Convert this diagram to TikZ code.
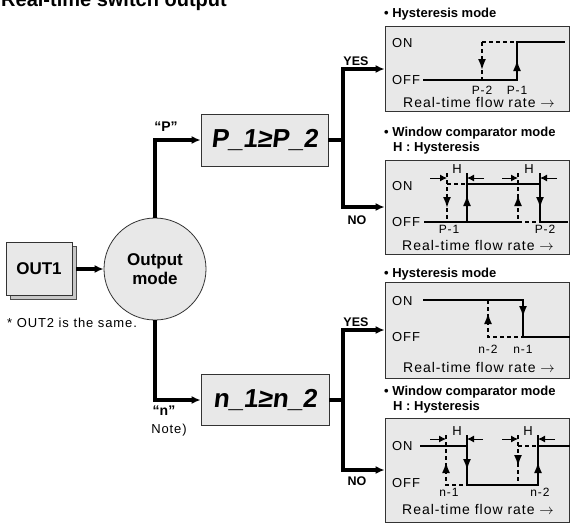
\documentclass[tikz,border=0pt]{standalone}
\usepackage{fontspec}
\setmainfont{Liberation Sans}
\newfontfamily\widefont[LetterSpace=7]{Liberation Sans}
\newfontfamily\segfont[FakeSlant=0.12]{Liberation Sans Bold}
\usetikzlibrary{arrows.meta,shadows}

\begin{document}
\begin{tikzpicture}[x=1pt,y=-1pt,
        flow/.style={line width=4pt,-{Latex[length=9pt,width=8pt]}},
        sig/.style={line width=1.8pt},
        dsig/.style={sig,dash pattern=on 4pt off 3pt},
        tip/.style={-{Latex[length=11pt,width=8pt]}},
        dim/.style={line width=1pt,-{Latex[length=7pt,width=7pt]}},
        shade/.style={draw=black!80,fill=black!9,line width=0.8pt},
        panel/.style={shade,minimum width=184pt,inner sep=0pt},
        lbl/.style={inner sep=0pt,font=\widefont\fontsize{13}{15}\selectfont},
        axis/.style={inner sep=0pt,anchor=west,font=\widefont\fontsize{14}{16}\selectfont},
        ttl/.style={inner sep=0pt,anchor=base west,font=\bfseries\fontsize{13}{15}\selectfont},
        yn/.style={inner sep=0pt,font=\bfseries\fontsize{12.5}{14}\selectfont}]
        \useasboundingbox (0,0) rectangle (578,528);
        \node[anchor=base west,inner sep=0pt,font=\bfseries\fontsize{20}{22}\selectfont](title) at (1,6) {Real-time switch output};

        \node[shade,minimum width=66pt,minimum height=53pt,drop shadow={shadow xshift=4pt,shadow yshift=-4pt,fill=black!22,draw=black!70,opacity=1},font=\bfseries\fontsize{17}{19}\selectfont](out1) at (39,269) {OUT1};
        \node[shade,circle,minimum size=102pt,inner sep=0pt,align=center,font=\bfseries\fontsize{17}{19}\selectfont](mode) at (155,269) {Output\\mode};
        \node[lbl,anchor=west](same) at (7,323) {* OUT2 is the same.};
        \node[shade,minimum width=127pt,minimum height=52pt,font=\segfont\fontsize{26}{28}\selectfont](pcmp) at (264.5,140) {P\_1≥P\_2};
        \node[shade,minimum width=128pt,minimum height=51pt,font=\segfont\fontsize{26}{28}\selectfont](ncmp) at (265,400) {n\_1≥n\_2};
        \node[yn,font=\bfseries\fontsize{14}{16}\selectfont](plbl) at (166,127) {“P”};
        \node[yn,font=\bfseries\fontsize{14}{16}\selectfont](nlbl) at (164,411) {“n”};
        \node[lbl](note) at (169,430) {Note)};

        \node[panel,minimum height=85pt](hp) at (477,69) {};
        \node[panel,minimum height=94pt](wp) at (477,207) {};
        \node[panel,minimum height=96pt](hn) at (477,330) {};
        \node[panel,minimum height=104pt](wn) at (477,470) {};

        \draw[flow]([xshift=4pt]out1.east)--(mode.west);
        \draw[flow](mode.north)|-(pcmp.west);
        \draw[flow](mode.south)|-(ncmp.west);
        \coordinate(pbus) at (343,140);
        \coordinate(nbus) at (343,400);
        \draw[line width=4pt](pcmp.east)--(pbus);
        \draw[line width=4pt](ncmp.east)--(nbus);
        \draw[flow](pbus)|-(hp.west);
        \draw[flow](pbus)|-(wp.west);
        \draw[flow](nbus)|-(hn.west);
        \draw[flow](nbus)|-(wn.west);
        \node[yn](pyes) at (356,61) {YES};
        \node[yn](pno) at (357,220) {NO};
        \node[yn](nyes) at (356,322) {YES};
        \node[yn](nno) at (357,481) {NO};

        \node[ttl](hpt) at (384,17) {• Hysteresis mode};
        \node[lbl,anchor=west](hpon) at (392,43) {ON};
        \node[lbl,anchor=west](hpoff) at (392,80) {OFF};
        \draw[sig](423,80)--(517,80)--(517,42)--(565,42);
        \draw[dsig](482,42)--(517,42);
        \draw[dsig](482,42)--(482,80);
        \draw[sig,tip](517,71)--(517,60);
        \draw[sig,tip](482,59)--(482,70);
        \node[lbl,font=\widefont\fontsize{12}{14}\selectfont](hp2) at (482,90) {P-2};
        \node[lbl,font=\widefont\fontsize{12}{14}\selectfont](hp1) at (517,90) {P-1};
        \node[axis](hpx) at (403,102) {Real-time flow rate $\rightarrow$};

        \node[ttl](wpt) at (384,136) {• Window comparator mode};
        \node[ttl](wph) at (393,151) {H : Hysteresis};
        \node[lbl,anchor=west](wpon) at (392,186) {ON};
        \node[lbl,anchor=west](wpoff) at (392,222) {OFF};
        \draw[sig](424,222)--(518,222);
        \draw[sig](540,222)--(568,222);
        \draw[dsig](518,222)--(540,222);
        \draw[sig](467,222)--(467,173);
        \draw[sig](467,184)--(540,184);
        \draw[sig](540,173)--(540,222);
        \draw[dsig](447,173)--(447,222);
        \draw[dsig](447,184)--(467,184);
        \draw[dsig](518,173)--(518,222);
        \draw[sig,tip](447,197)--(447,208);
        \draw[sig,tip](467,206)--(467,195);
        \draw[sig,tip](518,206)--(518,195);
        \draw[sig,tip](540,197)--(540,208);
        \draw[dim](430,178)--(447,178);
        \draw[dim](484,178)--(467,178);
        \draw[dim](502,178)--(518,178);
        \draw[dim](557,178)--(540,178);
        \node[lbl](wph1) at (457,169) {H};
        \node[lbl](wph2) at (529,169) {H};
        \node[lbl,font=\widefont\fontsize{12}{14}\selectfont](wp1) at (449,229) {P-1};
        \node[lbl,font=\widefont\fontsize{12}{14}\selectfont](wp2) at (545,229) {P-2};
        \node[axis](wpx) at (402,245) {Real-time flow rate $\rightarrow$};

        \node[ttl](hnt) at (384,277) {• Hysteresis mode};
        \node[lbl,anchor=west](hnon) at (392,301) {ON};
        \node[lbl,anchor=west](hnoff) at (392,337) {OFF};
        \draw[sig](423,300)--(523,300)--(523,337)--(570,337);
        \draw[dsig](488,300)--(488,337)--(523,337);
        \draw[sig,tip](523,306)--(523,317);
        \draw[sig,tip](488,324)--(488,313);
        \node[lbl,font=\widefont\fontsize{12}{14}\selectfont](hn2) at (488,349) {n-2};
        \node[lbl,font=\widefont\fontsize{12}{14}\selectfont](hn1) at (523,349) {n-1};
        \node[axis](hnx) at (403,367) {Real-time flow rate $\rightarrow$};

        \node[ttl](wnt) at (384,395) {• Window comparator mode};
        \node[ttl](wnh) at (393,410) {H : Hysteresis};
        \node[lbl,anchor=west](wnon) at (392,446) {ON};
        \node[lbl,anchor=west](wnoff) at (392,483) {OFF};
        \draw[sig](420,446)--(467,446);
        \draw[sig](467,435)--(467,485)--(538,485)--(538,435);
        \draw[sig](538,446)--(570,446);
        \draw[dsig](446,435)--(446,485)--(467,485);
        \draw[dsig](518,435)--(518,485);
        \draw[dsig](518,446)--(538,446);
        \draw[sig,tip](446,473)--(446,462);
        \draw[sig,tip](467,459)--(467,470);
        \draw[sig,tip](518,455)--(518,466);
        \draw[sig,tip](538,473)--(538,462);
        \draw[dim](430,439)--(446,439);
        \draw[dim](483,439)--(467,439);
        \draw[dim](502,439)--(518,439);
        \draw[dim](555,439)--(538,439);
        \node[lbl](wnh1) at (457,431) {H};
        \node[lbl](wnh2) at (528,431) {H};
        \node[lbl,font=\widefont\fontsize{12}{14}\selectfont](wn1) at (449,492) {n-1};
        \node[lbl,font=\widefont\fontsize{12}{14}\selectfont](wn2) at (540,492) {n-2};
        \node[axis](wnx) at (402,509) {Real-time flow rate $\rightarrow$};
        \end{tikzpicture}
\end{document}
